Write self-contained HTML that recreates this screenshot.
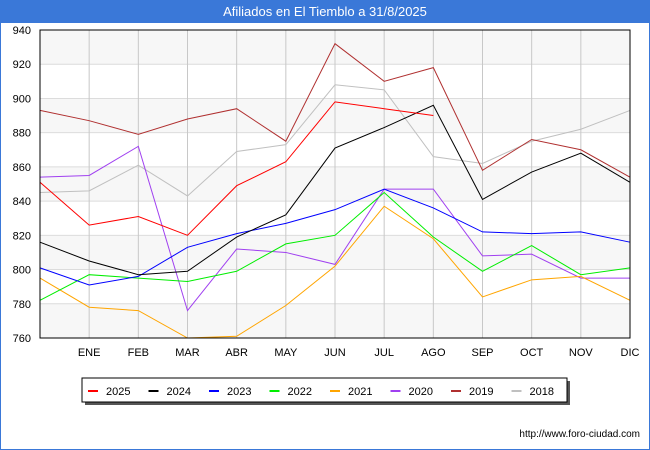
<!DOCTYPE html>
<html><head><meta charset="utf-8"><style>
body{margin:0;background:#fff;font-family:"Liberation Sans","DejaVu Sans",sans-serif;}
#wrap{position:relative;width:650px;height:450px;overflow:hidden;}
</style></head><body>
<div id="wrap">
<svg id="svg" width="650" height="450" xmlns="http://www.w3.org/2000/svg">
<rect x="0" y="0" width="650" height="22" fill="#3a78d8"/>
<text x="325" y="16" fill="#fff" font-size="13" text-anchor="middle">Afiliados en El Tiemblo a 31/8/2025</text>
<rect x="0" y="22" width="650" height="428" fill="none" stroke="#3a78d8" stroke-width="2"/>
<g id="grid"></g><g id="lines"></g>
<rect x="40" y="30" width="590" height="308" fill="none" stroke="#000" stroke-width="1"/>
<g id="legend"></g>
<text x="640" y="437" font-size="10" text-anchor="end" fill="#000">http://www.foro-ciudad.com</text>
</svg>
</div>
<script>
const months=["","ENE","FEB","MAR","ABR","MAY","JUN","JUL","AGO","SEP","OCT","NOV","DIC"];
const yTicks=[760,780,800,820,840,860,880,900,920,940];
const seriesNames=["2025","2024","2023","2022","2021","2020","2019","2018"];
const seriesColors=["#ff0000","#000000","#0000ff","#00ee00","#ffa500","#a040f0","#b03030","#c0c0c0"];
const s2025=[851,826,831,820,849,863,898,894,890];
const s2024=[816,805,797,799,819,832,871,883,896,841,857,868,851];
const s2023=[801,791,796,813,821,827,835,847,836,822,821,822,816];
const s2022=[782,797,795,793,799,815,820,845,819,799,814,797,801];
const s2021=[795,778,776,760,761,779,802,837,818,784,794,796,782];
const s2020=[854,855,872,776,812,810,803,847,847,808,809,795,795];
const s2019=[893,887,879,888,894,875,932,910,918,858,876,870,854];
const s2018=[845,846,861,843,869,873,908,905,866,862,875,882,893];
const allSeries=[s2025,s2024,s2023,s2022,s2021,s2020,s2019,s2018];
const NS="http://www.w3.org/2000/svg";
const X0=40,X1=630,Y0=338,Y1=30,YMIN=760,YMAX=940;
const xs=i=>X0+i*(X1-X0)/12;
const ys=v=>Y0-(v-YMIN)/(YMAX-YMIN)*(Y0-Y1);
function mk(t,a,p){const e=document.createElementNS(NS,t);for(const k in a)e.setAttribute(k,a[k]);p.appendChild(e);return e;}
const grid=document.getElementById('grid');
for(let i=0;i<yTicks.length-1;i++){
 if((yTicks.length-2-i)%2===0){const r=mk('rect',{x:X0,y:ys(yTicks[i+1]),width:X1-X0,height:ys(yTicks[i])-ys(yTicks[i+1]),fill:'#f7f7f7'},grid);
 
 }
}
yTicks.forEach(v=>{
 const l=mk('line',{x1:X0,x2:X1,y1:ys(v),y2:ys(v),stroke:'#dcdcdc'},grid);
 
 
 const t=mk('text',{x:X0-9,y:ys(v)+4,'font-size':11,'text-anchor':'end',fill:'#000'},grid);t.textContent=v;
 
 
});
months.forEach((m,i)=>{
 if(i>0){const l=mk('line',{x1:xs(i),x2:xs(i),y1:Y1,y2:Y0,stroke:'#c8c8c8'},grid);
 
 }
 if(m){const t=mk('text',{x:xs(i),y:356,'font-size':11,'text-anchor':'middle',fill:'#000'},grid);t.textContent=m;
 
 }
});
const lines=document.getElementById('lines');
for(let k=allSeries.length-1;k>=0;k--){
 const pts=allSeries[k].map((v,i)=>xs(i)+','+ys(v)).join(' ');
 const p=mk('polyline',{points:pts,fill:'none',stroke:seriesColors[k],'stroke-width':1},lines);
 
 
}
const lg=document.getElementById('legend');
const sh=mk('rect',{x:85,y:381,width:485,height:24,fill:'#555'},lg);


const box=mk('rect',{x:82,y:378,width:485,height:24,fill:'#fff',stroke:'#000'},lg);


seriesNames.forEach((n,k)=>{
 const x=88+k*60.5;
 const l=mk('line',{x1:x,x2:x+10,y1:391,y2:391,stroke:seriesColors[k],'stroke-width':2},lg);
 
 
 const t=mk('text',{x:x+18,y:395,'font-size':11,fill:'#000'},lg);t.textContent=n;
 
 
});
</script>
</body></html>
